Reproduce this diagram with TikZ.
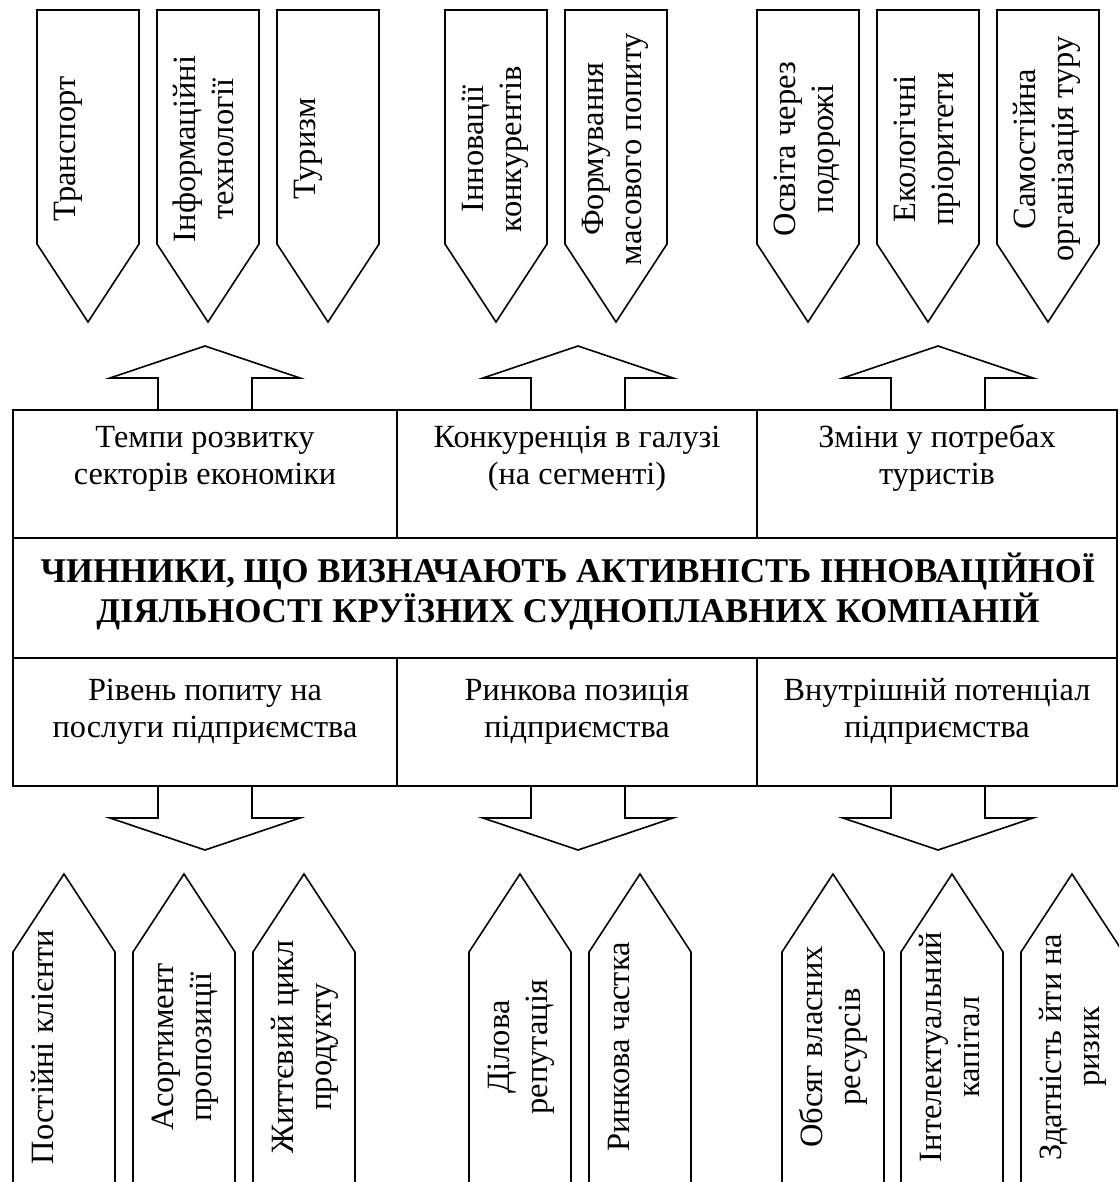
\documentclass[tikz,border=0pt]{standalone}
\usepackage{fontspec}
\setmainfont{Liberation Serif}
% lines of a cell, stacked with the first line as baseline
\newcommand\celllines[1]{\begin{tabular}[t]{@{}c@{}}#1\end{tabular}}
\begin{document}
\begin{tikzpicture}[x=1pt,y=-1pt,
  outline/.style={draw=black, line width=1.6pt, line join=miter},
  vtext/.style={rotate=90, anchor=base, inner sep=0pt, font=\fontsize{32.5}{38}\selectfont},
  htext/.style={anchor=base, inner sep=0pt, font=\fontsize{32.3}{37}\selectfont},
  ttext/.style={anchor=base, inner sep=0pt, font=\fontsize{34.7}{37}\selectfont\bfseries},
]
\clip (0,0) rectangle (1119,1182);
\fill[white] (0,0) rectangle (1119,1182);

% downward tags along the top
\foreach \x/\n/\t in {37/t1/{Транспорт},
                      157/t2/{Інформаційні\\технології},
                      277/t3/{Туризм},
                      445/t4/{Інновації\\конкурентів},
                      565/t5/{Формування\\масового попиту},
                      757/t6/{Освіта через\\подорожі},
                      877/t7/{Екологічні\\пріоритети},
                      997/t8/{Самостійна\\організація туру}}{
  \draw[outline] (\x,10) -- (\x+102,10) -- (\x+102,244) -- (\x+51,322) -- (\x,244) -- cycle;
  \node[vtext] (\n) at (\x+38.5,149) {\celllines{\t}};
}

% upward tags along the bottom
\foreach \x/\n/\t in {13/b1/{Постійні клієнти},
                      133/b2/{Асортимент\\пропозиції},
                      253/b3/{Життєвий цикл\\продукту},
                      469/b4/{Ділова\\репутація},
                      589/b5/{Ринкова частка},
                      782/b6/{Обсяг власних\\ресурсів},
                      901/b7/{Інтелектуальний\\капітал},
                      1021/b8/{Здатність йти на\\ризик}}{
  \draw[outline] (\x,1200) -- (\x,952) -- (\x+51,874) -- (\x+102,952) -- (\x+102,1200);
  \node[vtext] (\n) at (\x+40,1047) {\celllines{\t}};
}

% block arrows leaving the frame
\foreach \c in {205,578,938}{
  \draw[outline] (\c-47,410) -- (\c-47,378) -- (\c-95,378) -- (\c,346)
                 -- (\c+95,378) -- (\c+47,378) -- (\c+47,410);
  \draw[outline] (\c-47,786) -- (\c-47,818) -- (\c-95,818) -- (\c,850)
                 -- (\c+95,818) -- (\c+47,818) -- (\c+47,786);
}

% central frame
\draw[outline] (13,410) rectangle (1117,786);
\draw[outline] (13,538) -- (1117,538);
\draw[outline] (13,658) -- (1117,658);
\draw[outline] (397,410) -- (397,538);
\draw[outline] (757,410) -- (757,538);
\draw[outline] (397,658) -- (397,786);
\draw[outline] (757,658) -- (757,786);

% upper cells
\node[htext] (u1) at (205,447) {\celllines{Темпи розвитку\\секторів економіки}};
\node[htext] (u2) at (577,447) {\celllines{Конкуренція в галузі\\(на сегменті)}};
\node[htext] (u3) at (937,447) {\celllines{Зміни у потребах\\туристів}};

% title row
\node[ttext] (title) at (568,582) {\celllines{ЧИННИКИ, ЩО ВИЗНАЧАЮТЬ АКТИВНІСТЬ ІННОВАЦІЙНОЇ\\ДІЯЛЬНОСТІ КРУЇЗНИХ СУДНОПЛАВНИХ КОМПАНІЙ}};

% lower cells
\node[htext] (l1) at (205,700) {\celllines{Рівень попиту на\\послуги підприємства}};
\node[htext] (l2) at (577,700) {\celllines{Ринкова позиція\\підприємства}};
\node[htext] (l3) at (937,700) {\celllines{Внутрішній потенціал\\підприємства}};
\end{tikzpicture}
\end{document}
